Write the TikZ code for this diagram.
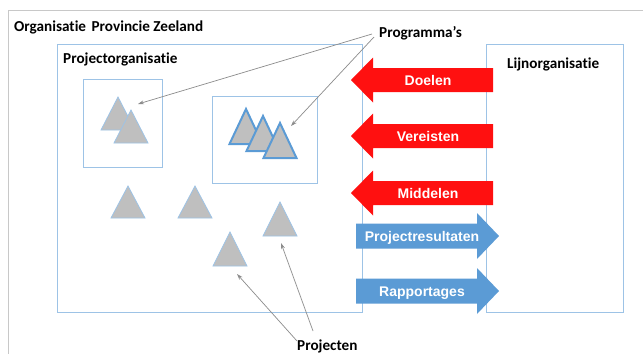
\documentclass[tikz,border=0pt]{standalone}
\usepackage{fontspec}
\setmainfont{Carlito}[Ligatures={NoCommon}]
\newfontfamily\arialbold{Liberation Sans}[BoldFont={* Bold}]
\usetikzlibrary{arrows.meta}
\definecolor{boxblue}{HTML}{9DC3E6}
\definecolor{triblue}{HTML}{5B9BD5}
\definecolor{trifill}{HTML}{BFBFBF}
\definecolor{outergrey}{HTML}{C8C8C8}
\definecolor{pointergrey}{HTML}{8C8C8C}
\definecolor{flowred}{HTML}{FF1010}
\definecolor{flowblue}{HTML}{5B9BD5}
\tikzset{
  orgbox/.style={draw=boxblue, line width=0.9pt},
  tri/.style={fill=trifill, draw=boxblue, line width=0.8pt, line join=miter},
  tribold/.style={fill=trifill, draw=triblue, line width=2pt, line join=miter},
  heading/.style={font=\fontsize{15.2}{17}\selectfont\bfseries, inner sep=0pt},
  flowlabel/.style={font=\arialbold\fontsize{14}{16}\selectfont\bfseries, text=white, inner sep=0pt},
  pointer/.style={draw=pointergrey, line width=0.7pt, -{Stealth[length=6pt,width=4pt]}},
}
\begin{document}
\begin{tikzpicture}[x=1pt,y=-1pt]
\useasboundingbox (0,0) rectangle (643,354);
\fill[white] (0,0) rectangle (643,354);

% outer organisation frame
\draw[outergrey, line width=0.9pt] (643,10) -- (8,10) -- (8,354);
\node[heading, anchor=base west] (org) at (14,31) {Organisatie\hspace{5.5pt}Provincie Zeeland};

% project organisation
\draw[orgbox] (57,44) rectangle (362,312);
\node[heading, anchor=base west] (porg) at (63,63) {Projectorganisatie};

% line organisation
\draw[orgbox] (486,44) rectangle (623,312);
\node[heading, anchor=base west] (lorg) at (507,68) {Lijnorganisatie};

% programme boxes
\draw[orgbox] (83,79) rectangle (162,167);
\draw[orgbox] (212,96) rectangle (317,183);

% triangles of the first programme
\draw[tri] (118,97) -- ++(17,33) -- ++(-34,0) -- cycle;
\draw[tri] (131,110) -- ++(17,33) -- ++(-34,0) -- cycle;

% triangles of the second programme
\draw[tribold] (246,109) -- ++(16.5,35) -- ++(-33,0) -- cycle;
\draw[tribold] (263,116) -- ++(16.5,35) -- ++(-33,0) -- cycle;
\draw[tribold] (280,123) -- ++(16.5,35) -- ++(-33,0) -- cycle;

% separate projects
\draw[tri] (128,186) -- ++(17,32) -- ++(-34,0) -- cycle;
\draw[tri] (195,186) -- ++(17,32) -- ++(-34,0) -- cycle;
\draw[tri] (280,202) -- ++(17,34) -- ++(-34,0) -- cycle;
\draw[tri] (230,232) -- ++(17,34) -- ++(-34,0) -- cycle;

% programme and project callouts
\node[heading, anchor=base west] (prog) at (379,37) {Programma’s};
\coordinate (progA) at (372,34);
\coordinate (progB) at (374,37);
\coordinate (progT1) at (138,104);
\coordinate (progT2) at (291,126);
\draw[pointer] (progA) -- (progT1);
\draw[pointer] (progB) -- (progT2);

\node[heading, anchor=base west] (proj) at (297,350) {Projecten};
\coordinate (projA) at (297,341);
\coordinate (projB) at (313,331);
\coordinate (projT1) at (237,274);
\coordinate (projT2) at (281,243);
\draw[pointer] (projA) -- (projT1);
\draw[pointer] (projB) -- (projT2);

% flows from line organisation to projects
\foreach \yc/\lbl/\nm in {80/Doelen/doelen, 136/Vereisten/vereisten, 193/Middelen/middelen}{
  \fill[flowred] (493,\yc-12) -- (373,\yc-12) -- (373,\yc-22.5) -- (351,\yc)
    -- (373,\yc+22.5) -- (373,\yc+12) -- (493,\yc+12) -- cycle;
  \node[flowlabel, anchor=base] (\nm) at (428,\yc+5) {\lbl};
}

% flows from projects to line organisation
\foreach \yc/\lbl/\nm in {236/Projectresultaten/resultaten, 291/Rapportages/rapportages}{
  \fill[flowblue] (356,\yc-12.5) -- (477,\yc-12.5) -- (477,\yc-23) -- (499,\yc)
    -- (477,\yc+23) -- (477,\yc+12.5) -- (356,\yc+12.5) -- cycle;
  \node[flowlabel, anchor=base] (\nm) at (422,\yc+5) {\lbl};
}
\end{tikzpicture}
\end{document}
